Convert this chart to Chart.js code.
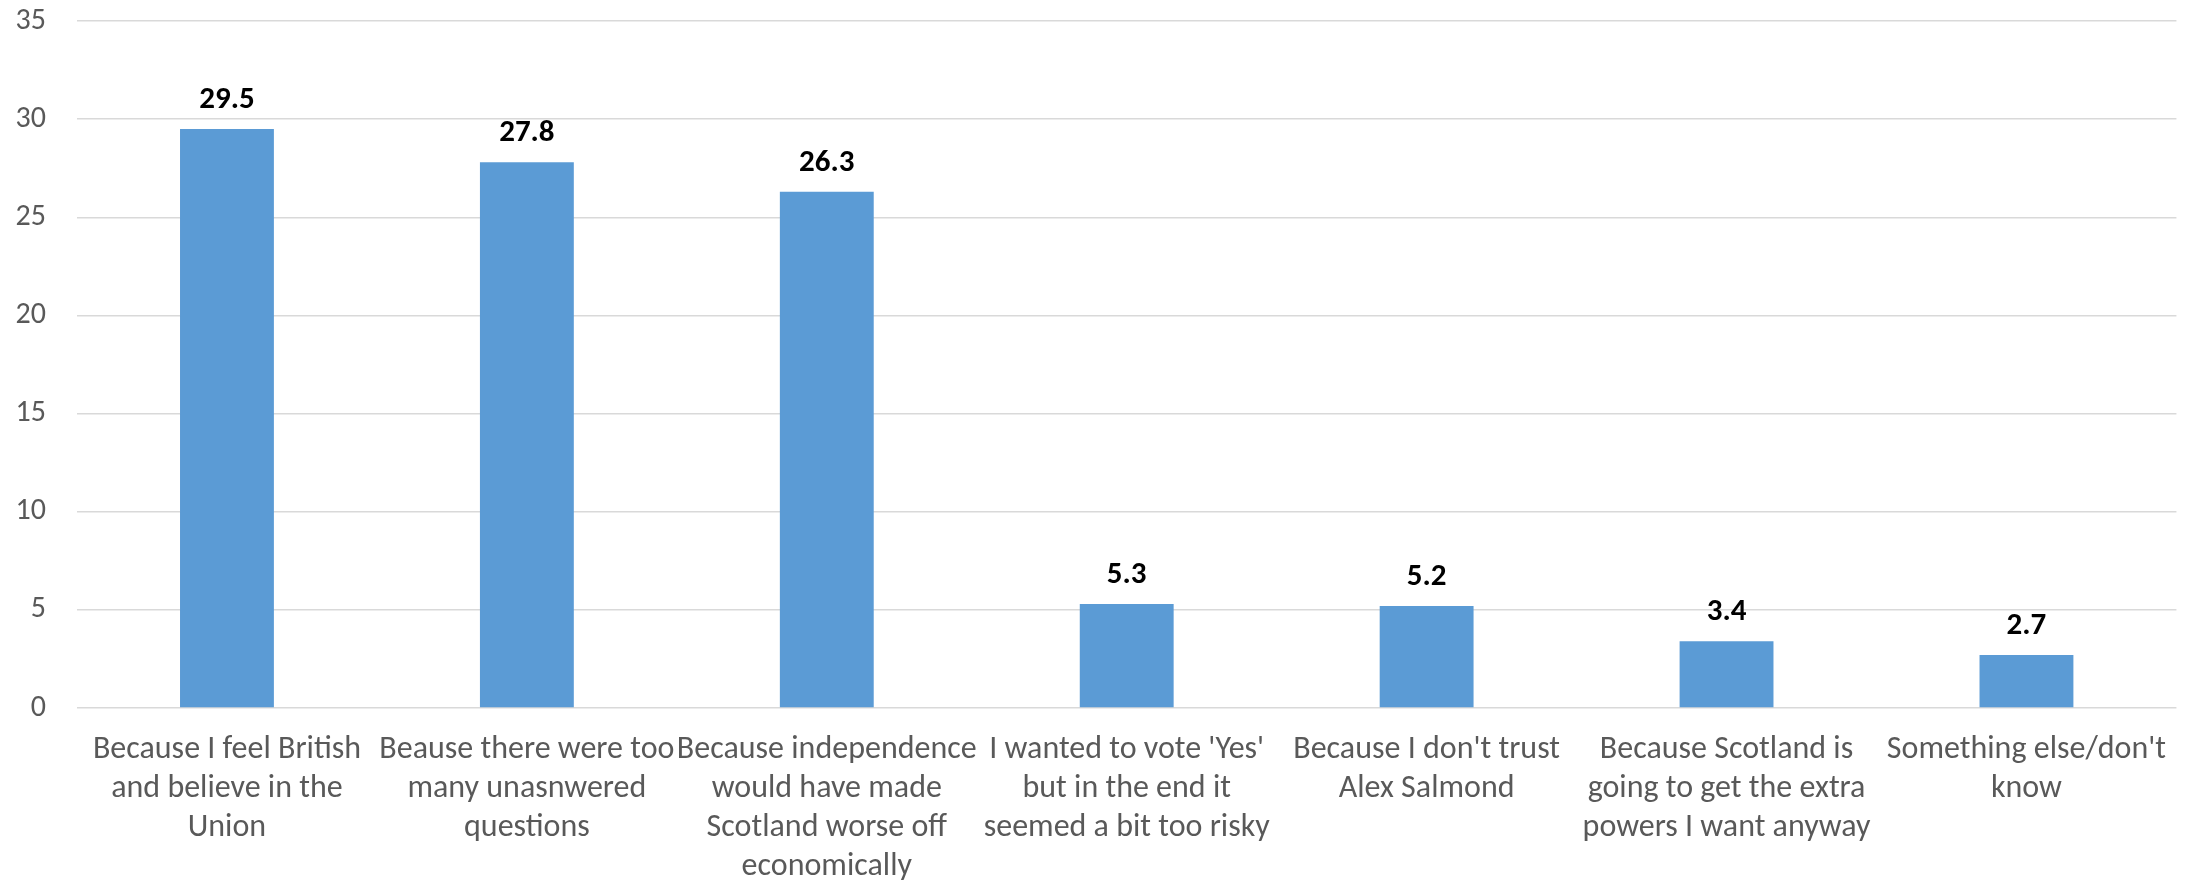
<!DOCTYPE html>
<html>
<head>
<meta charset="utf-8">
<script src="https://cdn.jsdelivr.net/npm/chart.js@4/dist/chart.umd.min.js"></script>
<style>
  html, body { margin: 0; padding: 0; background: #fff; }
  #wrap { width: 2190px; height: 882px; }
</style>
</head>
<body>
<div id="wrap"><canvas id="barChart"></canvas></div>
<script>
const categories = [
  ["Because I feel British", "and believe in the", "Union"],
  ["Beause there were too", "many unasnwered", "questions"],
  ["Because independence", "would have made", "Scotland worse off", "economically"],
  ["I wanted to vote 'Yes'", "but in the end it", "seemed a bit too risky"],
  ["Because I don't trust", "Alex Salmond"],
  ["Because Scotland is", "going to get the extra", "powers I want anyway"],
  ["Something else/don't", "know"]
];
const values = [29.5, 27.8, 26.3, 5.3, 5.2, 3.4, 2.7];
const yTicks = [0, 5, 10, 15, 20, 25, 30, 35];

const labelFont = "'Carlito', 'Liberation Sans Narrow', 'Liberation Sans', sans-serif";

// draws the bold value above each bar
const valueLabels = {
  id: "valueLabels",
  afterDatasetsDraw(chart) {
    const ctx = chart.ctx;
    const meta = chart.getDatasetMeta(0);
    ctx.save();
    ctx.font = "bold 31px " + labelFont;
    ctx.fillStyle = "#000000";
    ctx.textAlign = "center";
    ctx.textBaseline = "alphabetic";
    meta.data.forEach(function (bar, i) {
      ctx.fillText(values[i].toFixed(1), bar.x, bar.y - 21);
    });
    ctx.restore();
  }
};

const ctx = document.getElementById("barChart").getContext("2d");
const myChart = new Chart(ctx, {
  type: "bar",
  data: {
    labels: categories,
    datasets: [
      {
        data: values,
        backgroundColor: "#5B9BD5",
        borderWidth: 0,
        barPercentage: 0.313,
        categoryPercentage: 1.0,
      },
    ],
  },
  options: {
    responsive: true,
    maintainAspectRatio: false,
    animation: false,
    layout: { padding: { top: 21, right: 13, left: 0, bottom: 0 } },
    plugins: {
      legend: { display: false },
      tooltip: { enabled: false },
    },
    scales: {
      x: {
        grid: { display: false, drawTicks: false },
        border: { display: false },
        ticks: {
          color: "#595959",
          font: { family: labelFont, size: 32, lineHeight: 1.21 },
          padding: 23,
          maxRotation: 0,
          minRotation: 0,
          autoSkip: false,
        },
        afterFit: function (s) { s.height = 174; },
      },
      y: {
        min: 0,
        max: 35,
        afterBuildTicks: function (s) { s.ticks = yTicks.map(v => ({ value: v })); },
        // invisible tick marks give the gap between labels and plot
        grid: { color: "#D9D9D9", lineWidth: 1.5, drawTicks: true, tickLength: 31, tickColor: "rgba(0,0,0,0)" },
        border: { display: false },
        ticks: {
          color: "#595959",
          font: { family: labelFont, size: 30 },
          padding: 0,
        },
        afterFit: function (s) { s.width = 77; },
      },
    },
  },
  plugins: [valueLabels],
});
</script>
</body>
</html>
